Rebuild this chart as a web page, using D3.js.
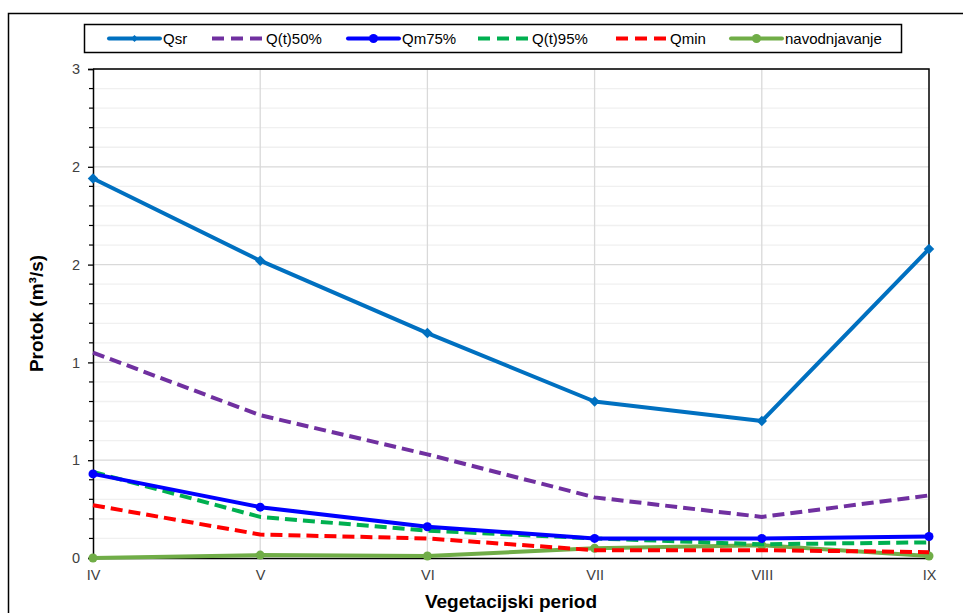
<!DOCTYPE html>
<html>
<head>
<meta charset="utf-8">
<script src="https://cdn.jsdelivr.net/npm/d3@7"></script>
<style>
  body { margin: 0; background: #fff; }
  text { font-family: "Liberation Sans", Arial, sans-serif; }
</style>
</head>
<body>
<div class="canvas"></div>
<script>
// categories and series
var months = ['IV', 'V', 'VI', 'VII', 'VIII', 'IX'];

var qsr      = [1.94, 1.52, 1.15, 0.80, 0.70, 1.58],
    qt50     = [1.05, 0.73, 0.53, 0.31, 0.21, 0.32],
    qm75     = [0.43, 0.26, 0.16, 0.10, 0.10, 0.11],
    qt95     = [0.44, 0.21, 0.14, 0.10, 0.07, 0.08],
    qmin     = [0.27, 0.12, 0.10, 0.04, 0.04, 0.03],
    navodnj  = [0.00, 0.015, 0.01, 0.05, 0.065, 0.01];

var yTicks = [0, 0.5, 1, 1.5, 2, 2.5],
    yLabels = ['0', '1', '1', '2', '2', '3'];

var series = [
    { name: 'Qsr', values: qsr, color: '#0070C0', dash: null, marker: 'diamond' },
    { name: 'Q(t)50%', values: qt50, color: '#7030A0', dash: '12,6', marker: null },
    { name: 'Qm75%', values: qm75, color: '#0000FF', dash: null, marker: 'circle' },
    { name: 'Q(t)95%', values: qt95, color: '#00B050', dash: '12,6', marker: null },
    { name: 'Qmin', values: qmin, color: '#FF0000', dash: '12,6', marker: null },
    { name: 'navodnjavanje', values: navodnj, color: '#70AD47', dash: null, marker: 'circle' }
];

var W = 963, H = 613;
var plot = { left: 93, right: 929, top: 69, bottom: 558 };

var svg = d3.select('.canvas').append('svg')
    .attr('width', W)
    .attr('height', H);

// chart frame (cut off at right/bottom like the picture)
svg.append('path')
    .attr('d', 'M8.5,' + (H + 5) + 'V13.5H' + (W + 5))
    .attr('fill', 'none')
    .attr('stroke', '#000')
    .attr('stroke-width', 1.5);

var x = d3.scalePoint()
    .domain(months)
    .range([plot.left, plot.right]);

var y = d3.scaleLinear()
    .domain([0, 2.5])
    .range([plot.bottom, plot.top]);

// minor gridlines
var minor = d3.range(0, 2.5001, 0.1).filter(function (v) {
    return Math.abs(v * 2 - Math.round(v * 2)) > 1e-6;
});
svg.append('g').selectAll('line')
    .data(minor)
    .enter().append('line')
    .attr('x1', plot.left).attr('x2', plot.right)
    .attr('y1', function (d) { return y(d); })
    .attr('y2', function (d) { return y(d); })
    .attr('stroke', '#F0F0F0')
    .attr('stroke-width', 1.3);

// major gridlines
svg.append('g').selectAll('line')
    .data(yTicks.slice(1))
    .enter().append('line')
    .attr('x1', plot.left).attr('x2', plot.right)
    .attr('y1', function (d) { return y(d); })
    .attr('y2', function (d) { return y(d); })
    .attr('stroke', '#D9D9D9')
    .attr('stroke-width', 1.3);

// vertical gridlines
svg.append('g').selectAll('line')
    .data(months.slice(1, -1))
    .enter().append('line')
    .attr('x1', function (d) { return x(d); })
    .attr('x2', function (d) { return x(d); })
    .attr('y1', plot.top).attr('y2', plot.bottom)
    .attr('stroke', '#D9D9D9')
    .attr('stroke-width', 1.3);

// plot border top / right
svg.append('path')
    .attr('d', 'M' + plot.left + ',' + plot.top + 'H' + plot.right + 'V' + plot.bottom)
    .attr('fill', 'none')
    .attr('stroke', '#000')
    .attr('stroke-width', 1.5);

// y axis
var yAxis = svg.append('g')
    .attr('transform', 'translate(' + plot.left + ',0)')
    .call(d3.axisLeft(y)
        .tickValues(yTicks)
        .tickSize(5)
        .tickPadding(8)
        .tickFormat(function (d, i) { return yLabels[i]; }));

yAxis.select('.domain').attr('stroke', '#000').attr('stroke-width', 1.5);
yAxis.selectAll('.tick line').attr('stroke', '#000').attr('stroke-width', 1.3);
yAxis.selectAll('.tick text')
    .attr('font-size', 14.5)
    .attr('fill', '#404040')
    .style('font-family', '"Liberation Sans", Arial, sans-serif');

// minor ticks on the y axis
svg.append('g').selectAll('line')
    .data(minor)
    .enter().append('line')
    .attr('x1', plot.left - 4).attr('x2', plot.left)
    .attr('y1', function (d) { return y(d); })
    .attr('y2', function (d) { return y(d); })
    .attr('stroke', '#000')
    .attr('stroke-width', 1.2);

// x axis
var xAxis = svg.append('g')
    .attr('transform', 'translate(0,' + plot.bottom + ')')
    .call(d3.axisBottom(x).tickSize(0).tickPadding(12));

xAxis.select('.domain').attr('stroke', '#000').attr('stroke-width', 1.5);
xAxis.selectAll('.tick text')
    .attr('font-size', 14.5)
    .attr('fill', '#404040')
    .style('font-family', '"Liberation Sans", Arial, sans-serif');

// axis titles
svg.append('text')
    .attr('x', (plot.left + plot.right) / 2)
    .attr('y', 608)
    .attr('text-anchor', 'middle')
    .attr('font-size', 19)
    .attr('font-weight', 'bold')
    .text('Vegetacijski period');

svg.append('text')
    .attr('transform', 'translate(43,' + ((plot.top + plot.bottom) / 2) + ') rotate(-90)')
    .attr('text-anchor', 'middle')
    .attr('font-size', 19)
    .attr('font-weight', 'bold')
    .text('Protok (m³/s)');

// lines
var line = d3.line()
    .x(function (d, i) { return x(months[i]); })
    .y(function (d) { return y(d); });

var drawOrder = [5, 4, 3, 2, 1, 0];

drawOrder.forEach(function (k) {
    var s = series[k];
    var g = svg.append('g');

    g.append('path')
        .datum(s.values)
        .attr('d', line)
        .attr('fill', 'none')
        .attr('stroke', s.color)
        .attr('stroke-width', 4)
        .attr('stroke-linejoin', 'round')
        .attr('stroke-dasharray', s.dash);

    if (s.marker === 'circle') {
        g.selectAll('circle')
            .data(s.values)
            .enter().append('circle')
            .attr('cx', function (d, i) { return x(months[i]); })
            .attr('cy', function (d) { return y(d); })
            .attr('r', 4.5)
            .attr('fill', s.color);
    } else if (s.marker === 'diamond') {
        g.selectAll('path.m')
            .data(s.values)
            .enter().append('path')
            .attr('class', 'm')
            .attr('d', d3.symbol().type(d3.symbolDiamond2).size(70))
            .attr('transform', function (d, i) {
                return 'translate(' + x(months[i]) + ',' + y(d) + ')';
            })
            .attr('fill', s.color);
    }
});

// legend
var legend = svg.append('g');

legend.append('rect')
    .attr('x', 84.5).attr('y', 24.5)
    .attr('width', 817).attr('height', 28)
    .attr('fill', '#fff')
    .attr('stroke', '#000')
    .attr('stroke-width', 1.5);

var legendX = [109, 212, 348, 478, 616, 731];

series.forEach(function (s, i) {
    var lx = legendX[i], ly = 38.5;
    legend.append('line')
        .attr('x1', lx).attr('x2', lx + 51)
        .attr('y1', ly).attr('y2', ly)
        .attr('stroke', s.color)
        .attr('stroke-width', 4)
        .attr('stroke-linecap', s.dash ? 'butt' : 'round')
        .attr('stroke-dasharray', s.dash ? '12,7' : null);
    if (s.marker === 'circle') {
        legend.append('circle')
            .attr('cx', lx + 25.5).attr('cy', ly)
            .attr('r', 4.5)
            .attr('fill', s.color);
    } else if (s.marker === 'diamond') {
        legend.append('path')
            .attr('d', d3.symbol().type(d3.symbolDiamond2).size(30))
            .attr('transform', 'translate(' + (lx + 25.5) + ',' + ly + ')')
            .attr('fill', s.color);
    }
    legend.append('text')
        .attr('x', lx + 54)
        .attr('y', ly + 5.5)
        .attr('font-size', 15)
        .attr('fill', '#000')
        .text(s.name);
});
</script>
</body>
</html>
